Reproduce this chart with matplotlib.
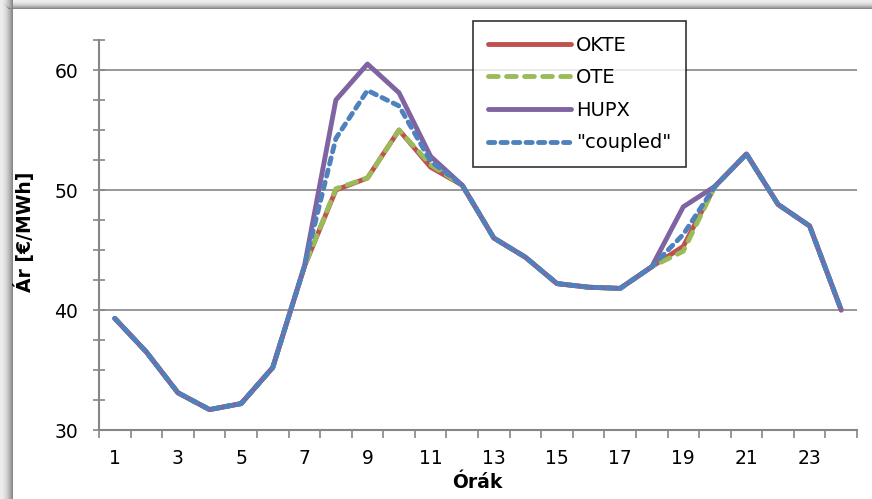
import numpy as np
import matplotlib
matplotlib.use("Agg")
import matplotlib.pyplot as plt
from matplotlib.ticker import MultipleLocator, FixedLocator

plt.rcParams["font.family"] = ["DejaVu Sans"]
plt.rcParams["lines.scale_dashes"] = False

# Órák (1..24) és árak [€/MWh]
hours = list(range(1, 25))
okte = [39.3, 36.5, 33.1, 31.7, 32.2, 35.2, 43.6, 50.0, 51.0, 55.0, 51.9, 50.4,
        46.0, 44.4, 42.2, 41.9, 41.8, 43.6, 45.3, 50.3, 53.0, 48.8, 47.0, 40.0]
ote = [39.3, 36.5, 33.1, 31.7, 32.2, 35.2, 43.6, 50.1, 51.0, 55.0, 52.1, 50.4,
       46.0, 44.4, 42.2, 41.9, 41.8, 43.6, 44.9, 50.3, 53.0, 48.8, 47.0, 40.0]
hupx = [39.3, 36.5, 33.1, 31.7, 32.2, 35.2, 43.6, 57.5, 60.5, 58.1, 52.8, 50.4,
        46.0, 44.4, 42.2, 41.9, 41.8, 43.6, 48.6, 50.3, 53.0, 48.8, 47.0, 40.0]
coupled = [39.3, 36.5, 33.1, 31.7, 32.2, 35.2, 43.6, 54.3, 58.3, 57.0, 52.4, 50.4,
           46.0, 44.4, 42.2, 41.9, 41.8, 43.6, 46.3, 50.3, 53.0, 48.8, 47.0, 40.0]
xlabels = [str(h) for h in hours[::2]]

W, H = 872, 499
fig = plt.figure(figsize=(W / 100, H / 100), dpi=100)

# szürke keret (bal és felső árnyék)
bg = np.ones((H, W, 3))
for i in range(13):
    c = 0.93 - 0.4 * (i / 12) ** 2
    bg[:, i, :] = c
for j in range(9):
    c = 0.93 - 0.4 * (j / 8) ** 2
    bg[j, j:, :] = np.minimum(bg[j, j:, :], c)
bax = fig.add_axes([0, 0, 1, 1])
bax.imshow(bg, aspect="auto", interpolation="nearest")
bax.axis("off")

ax = fig.add_axes([99 / W, (H - 430) / H, 758 / W, 390 / H])
ax.set_facecolor("none")
gray = "#868686"

for v in (40, 50, 60):
    ax.axhline(v, color=gray, lw=1.2, zorder=1)

lw = 3.5
ax.plot(hours, okte, color="#C0504D", lw=lw, label="OKTE", solid_capstyle="round",
        solid_joinstyle="round", zorder=3)
ax.plot(hours, ote, color="#9BBB59", lw=lw, label="OTE", dashes=(7, 6),
        dash_capstyle="round", zorder=4)
ax.plot(hours, hupx, color="#8064A2", lw=lw, label="HUPX", solid_capstyle="round",
        solid_joinstyle="round", zorder=5)
ax.plot(hours, coupled, color="#4F81BD", lw=lw, label='"coupled"', dashes=(4.5, 4.5),
        dash_capstyle="round", zorder=6)

ax.set_xlim(0.5, 24.5)
ax.set_ylim(30, 62.5)

ax.xaxis.set_major_locator(FixedLocator(hours[::2]))
ax.set_xticklabels(xlabels)
ax.xaxis.set_minor_locator(FixedLocator(np.arange(0.5, 25, 1)))
ax.tick_params(axis="x", which="major", length=0, pad=14, labelsize=13.5)
ax.tick_params(axis="x", which="minor", length=6, width=1.2, color=gray, direction="out")

ax.yaxis.set_major_locator(MultipleLocator(10))
ax.yaxis.set_minor_locator(MultipleLocator(2.5))
ax.tick_params(axis="y", which="both", length=8, width=1.2, color=gray, direction="inout")
ax.tick_params(axis="y", which="major", pad=11, labelsize=13.5)

for s in ("top", "right"):
    ax.spines[s].set_visible(False)
for s in ("left", "bottom"):
    ax.spines[s].set_color(gray)
    ax.spines[s].set_linewidth(1.5)

ax.set_ylabel("Ár [€/MWh]", fontsize=13.5, fontweight="bold")
ax.yaxis.set_label_coords(-0.085, 0.507)
ax.set_xlabel("Órák", fontsize=13.5, fontweight="bold")
ax.xaxis.set_label_coords(0.499, -0.11)

leg = ax.legend(loc="upper left", bbox_to_anchor=(473 / W, 1 - 21 / H),
                bbox_transform=fig.transFigure, borderaxespad=0, fontsize=14,
                handlelength=4.3, labelspacing=0.7, frameon=True, fancybox=False,
                borderpad=0.75, handletextpad=0.25)
leg.get_frame().set_edgecolor("black")
leg.get_frame().set_linewidth(1.2)
leg.set_zorder(10)

fig.savefig("out.png", dpi=100)
